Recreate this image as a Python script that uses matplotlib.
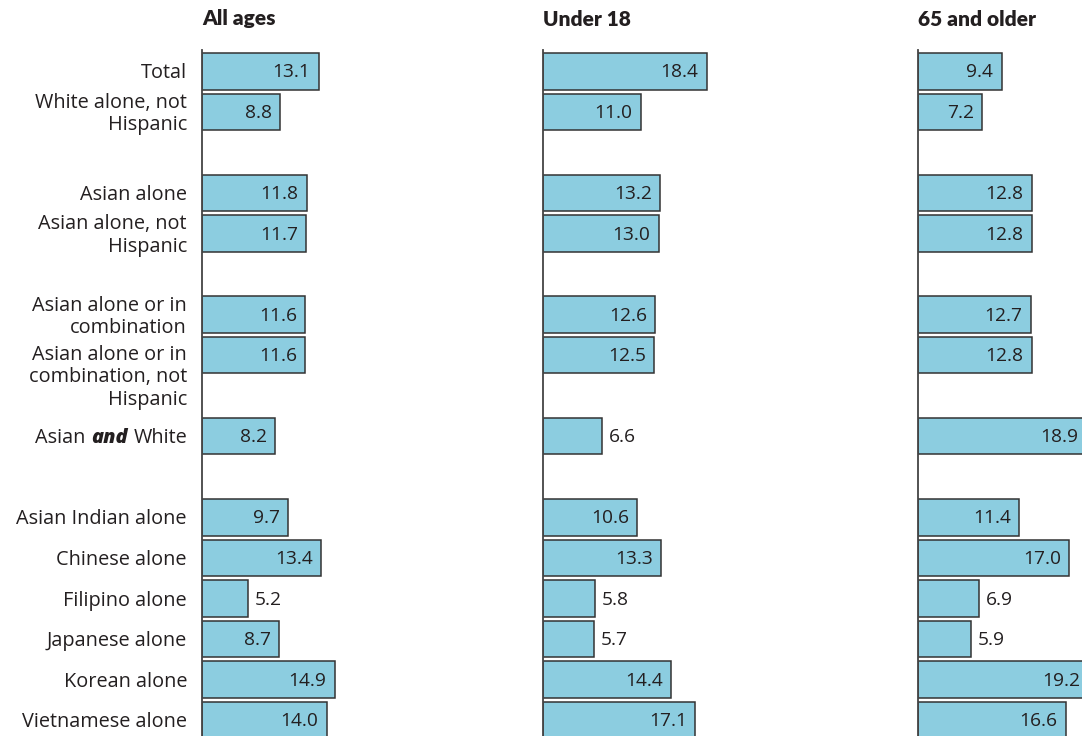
import matplotlib
matplotlib.use("Agg")
import matplotlib.pyplot as plt
import matplotlib.transforms as mtransforms
from matplotlib.offsetbox import TextArea, HPacker, AnnotationBbox

categories = [
    "Total",
    "White alone, not\nHispanic",
    "Asian alone",
    "Asian alone, not\nHispanic",
    "Asian alone or in\ncombination",
    "Asian alone or in\ncombination, not\nHispanic",
    "Asian and White",
    "Asian Indian alone",
    "Chinese alone",
    "Filipino alone",
    "Japanese alone",
    "Korean alone",
    "Vietnamese alone",
]
slots = [0, 1, 3, 4, 6, 7, 9, 11, 12, 13, 14, 15, 16]

panel_titles = ["All ages", "Under 18", "65 and older"]
all_ages = [13.1, 8.8, 11.8, 11.7, 11.6, 11.6, 8.2, 9.7, 13.4, 5.2, 8.7, 14.9, 14.0]
under_18 = [18.4, 11.0, 13.2, 13.0, 12.6, 12.5, 6.6, 10.6, 13.3, 5.8, 5.7, 14.4, 17.1]
older_65 = [9.4, 7.2, 12.8, 12.8, 12.7, 12.8, 18.9, 11.4, 17.0, 6.9, 5.9, 19.2, 16.6]
series = [all_ages, under_18, older_65]

W, H = 1082, 736
fig = plt.figure(figsize=(W / 100, H / 100), dpi=100)
FONT = "Open Sans"
TXT = "#231f20"
BAR = "#8ccde0"
EDGE = "#333333"
plt.rcParams["font.family"] = [FONT, "DejaVu Sans"]
CAT_FS = 14.3
NUM_FS = 13.8

px_per_unit = 8.9
axis_left_px = [202, 543, 918]
top_px = 50
slot_px = 40.55
slot0_px = 71.3
ymin = -(slot0_px - top_px) / slot_px
ymax = (H - slot0_px) / slot_px
xmax = 22
for p, (lx, vals, title) in enumerate(zip(axis_left_px, series, panel_titles)):
    ax = fig.add_axes([lx / W, 0, xmax * px_per_unit / W, (H - top_px) / H])
    ax.set_xlim(0, xmax)
    ax.set_ylim(ymax, ymin)
    ax.barh(slots, vals, height=0.9, color=BAR, edgecolor=EDGE, linewidth=1.1, zorder=2)
    for s in ["top", "right", "bottom"]:
        ax.spines[s].set_visible(False)
    ax.spines["left"].set_color("#444444")
    ax.spines["left"].set_linewidth(1.3)
    ax.spines["left"].set_zorder(3)
    ax.set_xticks([])
    ax.set_yticks([])
    ax.patch.set_alpha(0)
    for y, v in zip(slots, vals):
        if v >= 7:
            ax.annotate(f"{v:.1f}", (v, y), xytext=(-6, -0.8), textcoords="offset points",
                        ha="right", va="center", fontsize=NUM_FS, color=TXT)
        else:
            ax.annotate(f"{v:.1f}", (v, y), xytext=(5, -0.8), textcoords="offset points",
                        ha="left", va="center", fontsize=NUM_FS, color=TXT)
    fig.text(lx / W, 1 - 19 / H, title, ha="left", va="center", fontsize=15,
             fontweight="heavy", color=TXT, family=["Lato", "DejaVu Sans"])
    if p == 0:
        trans = mtransforms.blended_transform_factory(ax.transAxes, ax.transData)
        xl = -15 / (xmax * px_per_unit)
        for cat, y in zip(categories, slots):
            if cat == "Asian and White":
                box = HPacker(children=[
                    TextArea("Asian", textprops=dict(fontsize=CAT_FS, color=TXT)),
                    TextArea("and", textprops=dict(fontsize=CAT_FS, color=TXT, fontweight="heavy", style="italic")),
                    TextArea("White", textprops=dict(fontsize=CAT_FS, color=TXT)),
                ], sep=4, pad=0, align="baseline")
                ab = AnnotationBbox(box, (xl, y), xycoords=trans, xybox=(0, -1.5),
                                    boxcoords="offset points",
                                    box_alignment=(1, 0.5), frameon=False, pad=0)
                ax.add_artist(ab)
            elif cat.count("\n") == 2:
                ax.annotate(cat, (xl, y - 0.3), xycoords=trans, xytext=(0, -1.5),
                            textcoords="offset points", ha="right", va="top",
                            fontsize=CAT_FS, color=TXT, linespacing=1.15, multialignment="right")
            else:
                ax.annotate(cat, (xl, y), xycoords=trans, xytext=(0, -1.5),
                            textcoords="offset points", ha="right", va="center",
                            fontsize=CAT_FS, color=TXT, linespacing=1.15, multialignment="right")

fig.savefig("out.png", dpi=100)
